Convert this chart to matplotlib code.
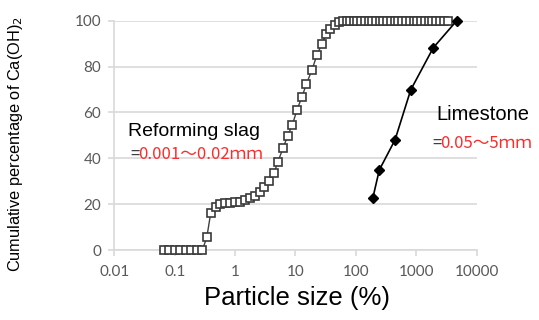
import matplotlib
matplotlib.use("Agg")
import matplotlib.pyplot as plt
from matplotlib.ticker import FixedLocator, NullLocator, FixedFormatter

# ---- data ----
slag_size = [0.0666, 0.0816, 0.100, 0.123, 0.151, 0.189, 0.233, 0.287,
             0.340, 0.394, 0.474, 0.561, 0.678, 0.820, 0.990, 1.197,
             1.446, 1.747, 2.110, 2.550, 3.033, 3.666, 4.390, 5.113,
             6.191, 7.388, 8.858, 10.54, 12.71, 15.17, 18.68, 22.65,
             27.45, 32.17, 37.45, 45.35, 52.10, 60.40, 70.00, 80.00,
             92.00, 106.0, 122.0, 140.0, 162.0, 186.0, 214.0, 247.0,
             285.0, 330.0, 380.0, 440.0, 507.0, 585.0, 677.0, 780.0,
             900.0, 1040.0, 1200.0, 1390.0, 1600.0, 1850.0, 2140.0,
             2470.0, 2860.0, 3300.0]
slag_pct = [0, 0, 0, 0, 0, 0, 0, 0,
            5.5, 16.0, 18.6, 19.9, 20.4, 20.6, 20.8, 21.1,
            21.8, 22.5, 23.7, 25.4, 27.6, 30.2, 33.4, 38.5,
            44.3, 49.7, 54.5, 61.0, 66.6, 72.4, 78.5, 85.0,
            90.0, 94.0, 96.5, 98.3, 99.5, 100, 100, 100,
            100, 100, 100, 100, 100, 100, 100, 100,
            100, 100, 100, 100, 100, 100, 100, 100,
            100, 100, 100, 100, 100, 100, 100,
            100, 100, 100]

lime_size = [190, 244, 444, 808, 1910, 4670]
lime_pct = [22.5, 34.9, 48.0, 69.8, 88.2, 100.0]

x_ticks = [0.01, 0.1, 1, 10, 100, 1000, 10000]
x_ticklabels = ["0.01", "0.1", "1", "10", "100", "1000", "10000"]
y_ticks = [0, 20, 40, 60, 80, 100]

W, H = 539, 320
fig = plt.figure(figsize=(W / 100, H / 100), dpi=100)
ax = fig.add_axes([114.3 / W, 1 - 250 / H, (476.7 - 114.3) / W, (250 - 20.7) / H])

ax.set_xscale("log")
ax.set_xlim(0.01, 10000)
ax.set_ylim(0, 100)

grid_c = "#d9d9d9"
ax.yaxis.grid(True, color=grid_c, lw=1.2, zorder=0)
ax.set_axisbelow(True)
for s in ["top", "right"]:
    ax.spines[s].set_visible(False)
ax.spines["left"].set_color(grid_c)
ax.spines["bottom"].set_color(grid_c)
ax.spines["left"].set_linewidth(1.2)
ax.spines["bottom"].set_linewidth(1.2)

ax.xaxis.set_major_locator(FixedLocator(x_ticks))
ax.xaxis.set_major_formatter(FixedFormatter(x_ticklabels))
ax.xaxis.set_minor_locator(NullLocator())
ax.set_yticks(y_ticks)

for lab in ax.get_xticklabels() + ax.get_yticklabels():
    lab.set_fontfamily("Lato")
    lab.set_fontsize(11)
    lab.set_color("#595959")
ax.tick_params(axis="both", colors=grid_c, labelcolor="#595959", width=1.2, length=4.5)
ax.tick_params(axis="x", pad=6)
ax.tick_params(axis="y", pad=5)

ax.plot(slag_size, slag_pct, color="#404040", lw=1.0, marker="s", ms=6.3,
        mfc="white", mec="#3a3a3a", mew=1.2, zorder=3, clip_on=False)
ax.plot(lime_size, lime_pct, color="black", lw=1.2, marker="D", ms=5.5,
        mfc="black", mec="black", zorder=4, clip_on=False)

cjk = ["Noto Sans CJK JP", "DejaVu Sans"]
red = "#ff2b2b"
fig.text(128 / W, 1 - 132 / H, "Reforming slag", fontsize=14,
         family=["Liberation Sans"], color="black", va="center", ha="left")
fig.text(130 / W, 1 - 154.5 / H, "=", fontsize=12, family=cjk, color="#404040",
         va="center", ha="left")
fig.text(138 / W, 1 - 154.5 / H, "0.001～0.02ｍｍ", fontsize=12, family=cjk,
         color=red, va="center", ha="left")

fig.text(436 / W, 1 - 115 / H, "Limestone", fontsize=14.5,
         family=["Liberation Sans"], color="black", va="center", ha="left")
fig.text(432 / W, 1 - 143.5 / H, "=", fontsize=12, family=cjk, color="#404040",
         va="center", ha="left")
fig.text(440 / W, 1 - 143.5 / H, "0.05～5ｍｍ", fontsize=12, family=cjk,
         color=red, va="center", ha="left")

fig.text(16 / W, 1 - 144 / H, "Cumulative percentage of Ca(OH)$_2$", rotation=90,
         fontsize=11.8, family=["Liberation Sans"], va="center", ha="center")
fig.text(297 / W, 1 - 298 / H, "Particle size (%)", fontsize=18.5,
         family=["Liberation Sans"], va="center", ha="center")

fig.savefig("out.png", dpi=100)
